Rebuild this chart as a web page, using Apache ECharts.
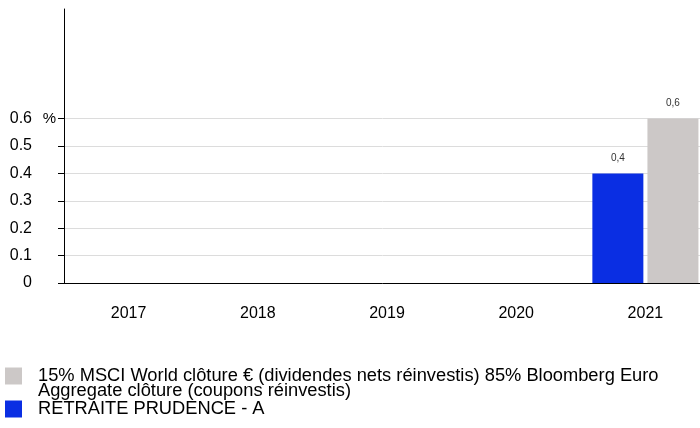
<!DOCTYPE html>
<html>
<head>
<meta charset="utf-8">
<script src="https://cdn.jsdelivr.net/npm/echarts@6/dist/echarts.min.js"></script>
<style>html,body{margin:0;padding:0;background:#fff;}#c{width:700px;height:428px;}</style>
</head>
<body>
<div id="c"></div>
<script>
var categories = ['2017', '2018', '2019', '2020', '2021'];
var fundName = 'RETRAITE PRUDENCE - A';
var benchName = '15% MSCI World clôture € (dividendes nets réinvestis) 85% Bloomberg Euro Aggregate clôture (coupons réinvestis)';
var fundValues = [null, null, null, null, 0.4];
var benchValues = [null, null, null, null, 0.6];
var yTicks = [0, 0.1, 0.2, 0.3, 0.4, 0.5, 0.6];

var chart = echarts.init(document.getElementById('c'), null, {renderer: 'canvas'});
var fontFam = 'Liberation Sans, Arial, sans-serif';
var labelFmt = function (p) { return String(p.value).replace('.', ','); };

chart.setOption({
  animation: false,
  textStyle: {fontFamily: fontFam},
  grid: {left: 64, width: 646, top: 9, bottom: 145, containLabel: false, outerBoundsMode: 'none'},
  xAxis: {
    type: 'category',
    data: categories,
    axisLine: {lineStyle: {color: '#000', width: 1}},
    axisTick: {alignWithLabel: true, length: 5, lineStyle: {color: '#000'}},
    axisLabel: {color: '#000', fontSize: 16, margin: 23, fontFamily: fontFam},
    splitLine: {show: false}
  },
  yAxis: {
    type: 'value',
    min: 0, max: 1, interval: 0.1,
    axisLine: {show: true, lineStyle: {color: '#000', width: 1}},
    axisTick: {show: true, length: 6, customValues: yTicks, lineStyle: {color: '#000'}},
    axisLabel: {
      customValues: yTicks,
      margin: 8,
      formatter: function (v) {
        var s = (Math.round(v * 10) / 10).toString();
        return '{v|' + s + '}{p|' + (Math.abs(v - 0.6) < 1e-9 ? '%' : '') + '}';
      },
      rich: {
        v: {fontSize: 16, color: '#000', width: 30, align: 'right', fontFamily: fontFam},
        p: {fontSize: 15, color: '#000', width: 24, align: 'right', fontFamily: fontFam}
      }
    },
    splitLine: {show: true, lineStyle: {color: '#dcdcdc', width: 1}}
  },
  legend: {
    orient: 'vertical',
    left: 5,
    top: 352,
    padding: 0,
    itemWidth: 17,
    itemHeight: 17,
    itemGap: 0,
    icon: 'rect',
    data: [benchName, fundName],
    formatter: function (name) {
      if (name === benchName) {
        return '\n' + name.replace('Euro Aggregate', 'Euro\nAggregate');
      }
      return name;
    },
    textStyle: {fontSize: 18.3, lineHeight: 15, color: '#000', fontFamily: fontFam, padding: [0, 0, 0, 11]}
  },
  series: [
    {
      name: fundName, type: 'bar', data: fundValues,
      barWidth: 51, barGap: '8%',
      itemStyle: {color: '#0a2ee3'},
      label: {show: true, position: 'top', distance: 10, fontSize: 10, color: '#333', formatter: labelFmt}
    },
    {
      name: benchName, type: 'bar', data: benchValues,
      barWidth: 51,
      itemStyle: {color: '#ccc8c7'},
      label: {show: true, position: 'top', distance: 10, fontSize: 10, color: '#333', formatter: labelFmt}
    }
  ]
});
</script>
</body>
</html>
